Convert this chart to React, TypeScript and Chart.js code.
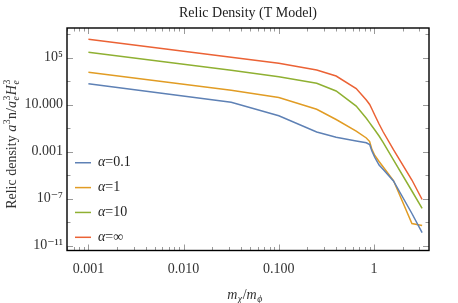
import React, { useEffect, useRef } from 'react';
import { Chart, registerables } from 'chart.js';
Chart.register(...registerables);

const FONT = '"Liberation Serif", "DejaVu Serif", serif';

// x = m_chi / m_phi
const X_VALUES = [0.001, 0.0316, 0.1, 0.25, 0.4, 0.65, 0.83, 0.9, 0.95, 1.02, 1.13, 1.25, 1.6, 2.5, 3.2];
const ALPHA_01 = [612, 16.0, 1.16, 0.0475, 0.0168, 8.3e-3, 5.71e-3, 4.1e-3, 1.15e-3, 3.21e-4, 7.38e-5, 3.05e-5, 3.21e-6, 5.5e-9, 1.28e-10];
const ALPHA_1 = [5.71e3, 168, 41.0, 4.06, 0.55, 0.0578, 0.0147, 7.38e-3, 1.57e-3, 4.75e-4, 1.47e-4, 4.99e-5, 3.54e-6, 7.74e-10, 5.24e-10];
const ALPHA_10 = [2.88e5, 8.47e3, 2.42e3, 662, 147, 7.74, 0.697, 0.282, 0.154, 0.0703, 0.0217, 5.94e-3, 2.05e-4, 4.52e-7, 1.52e-8];
const ALPHA_INF = [3.68e6, 1.08e5, 3.33e4, 8.97e3, 2.77e3, 239, 25.1, 10.4, 4.31, 1.28, 0.228, 0.0475, 1.48e-3, 3.9e-6, 8.55e-8];

const SERIES_LABELS = ['0.1', '1', '10', '∞'];
const SERIES_VALUES = [ALPHA_01, ALPHA_1, ALPHA_10, ALPHA_INF];
const SERIES_COLORS = ['#5E81B5', '#E19C24', '#8FB032', '#EB6235'];

const X_TICKS = [0.001, 0.01, 0.1, 1];
const X_TICK_LABELS = ['0.001', '0.010', '0.100', '1'];
const Y_TICKS = [1e5, 10, 1e-3, 1e-7, 1e-11];
const Y_TICK_LABELS = ['10⁵', '10.000', '0.001', '10⁻⁷', '10⁻¹¹'];
const Y_MINOR_EXP = [7, 3, -1, -5, -9];

const X_MIN = 5.96e-4;
const X_MAX = 3.78;
const Y_MIN = 3.9e-12;
const Y_MAX = 3.39e7;

const TITLE = 'Relic Density (T Model)';

type Part = { text: string; italic?: boolean; sub?: string; sup?: string };

const Y_TITLE: Part[] = [
  { text: 'Relic density ' },
  { text: 'a', italic: true, sup: '3' },
  { text: 'n/' },
  { text: 'a', italic: true, sub: 'e', sup: '3' },
  { text: 'H', italic: true, sub: 'e', sup: '3' },
];
const X_TITLE: Part[] = [
  { text: 'm', italic: true, sub: 'χ' },
  { text: '/' },
  { text: 'm', italic: true, sub: 'ϕ' },
];

function font(italic: boolean | undefined, size: number) {
  return `${italic ? 'italic ' : ''}${size}px ${FONT}`;
}

function drawRich(ctx: CanvasRenderingContext2D, parts: Part[], cx: number, cy: number, size: number, color: string) {
  const small = size * 0.7;
  const meas = parts.map((p) => {
    ctx.font = font(p.italic, size);
    const mw = ctx.measureText(p.text).width;
    ctx.font = font(true, small);
    const sw = p.sub ? ctx.measureText(p.sub).width : 0;
    ctx.font = font(false, small);
    const pw = p.sup ? ctx.measureText(p.sup).width : 0;
    return { mw, extra: Math.max(sw, pw) + (p.sub || p.sup ? 1 : 0) };
  });
  const total = meas.reduce((a, m) => a + m.mw + m.extra, 0);
  let x = cx - total / 2;
  const base = cy + size * 0.33;
  ctx.fillStyle = color;
  ctx.textBaseline = 'alphabetic';
  ctx.textAlign = 'left';
  parts.forEach((p, i) => {
    ctx.font = font(p.italic, size);
    ctx.fillText(p.text, x, base);
    x += meas[i].mw;
    if (p.sup) {
      ctx.font = font(false, small);
      ctx.fillText(p.sup, x + 0.5, base - size * 0.42);
    }
    if (p.sub) {
      ctx.font = font(true, small);
      ctx.fillText(p.sub, x + 0.5, base + size * 0.22);
    }
    x += meas[i].extra;
  });
}

const decorPlugin = {
  id: 'decor',
  afterDraw(chart: any) {
    const { ctx, chartArea } = chart;
    const { left, right, top, bottom } = chartArea;
    const xs = chart.scales.x;
    const ys = chart.scales.y;
    ctx.save();

    // inward tick marks
    ctx.strokeStyle = '#9a9a9a';
    ctx.lineWidth = 1;
    ctx.beginPath();
    for (let d = -4; d <= 1; d++) {
      for (let k = 1; k <= 9; k++) {
        const v = k * Math.pow(10, d);
        if (v < X_MIN || v > X_MAX) continue;
        const px = Math.round(xs.getPixelForValue(v)) + 0.5;
        const len = k === 1 ? 6 : 3.5;
        ctx.moveTo(px, bottom);
        ctx.lineTo(px, bottom - len);
        ctx.moveTo(px, top);
        ctx.lineTo(px, top + len);
      }
    }
    const yTickVals = [...Y_TICKS.map((v) => ({ v, len: 6 })), ...Y_MINOR_EXP.map((e) => ({ v: Math.pow(10, e), len: 3.5 }))];
    yTickVals.forEach(({ v, len }) => {
      if (v < Y_MIN || v > Y_MAX) return;
      const py = Math.round(ys.getPixelForValue(v)) + 0.5;
      ctx.moveTo(left, py);
      ctx.lineTo(left + len, py);
      ctx.moveTo(right, py);
      ctx.lineTo(right - len, py);
    });
    ctx.stroke();

    // frame
    ctx.strokeStyle = '#000';
    ctx.lineWidth = 1.4;
    ctx.strokeRect(left, top, right - left, bottom - top);

    // title
    ctx.fillStyle = '#222';
    ctx.font = font(false, 14);
    ctx.textAlign = 'center';
    ctx.textBaseline = 'middle';
    ctx.fillText(TITLE, (left + right) / 2, 13);

    // axis titles
    drawRich(ctx, X_TITLE, (left + right) / 2 - 3, 294, 14, '#333');
    ctx.save();
    ctx.translate(11.5, 144);
    ctx.rotate(-Math.PI / 2);
    drawRich(ctx, Y_TITLE, 0, 0, 14, '#333');
    ctx.restore();

    // legend inside chart area
    chart.data.datasets.forEach((ds: any, i: number) => {
      const y = bottom - 13.2 - (chart.data.datasets.length - 1 - i) * 24.85;
      ctx.strokeStyle = ds.borderColor;
      ctx.lineWidth = 1.5;
      ctx.beginPath();
      ctx.moveTo(left + 8, y);
      ctx.lineTo(left + 24, y);
      ctx.stroke();
      ctx.fillStyle = '#222';
      ctx.textAlign = 'left';
      ctx.textBaseline = 'middle';
      ctx.font = font(true, 14);
      const tx = left + 31;
      ctx.fillText('α', tx, y);
      const aw = ctx.measureText('α').width;
      ctx.font = font(false, 14);
      ctx.fillText('=' + SERIES_LABELS[i], tx + aw, y);
    });

    ctx.restore();
  },
};

export default function App() {
  const ref = useRef<HTMLCanvasElement>(null);
  useEffect(() => {
    const chart = new Chart(ref.current as HTMLCanvasElement, {
      type: 'line',
      data: {
        datasets: SERIES_VALUES.map((vals, i) => ({
          label: 'α=' + SERIES_LABELS[i],
          data: X_VALUES.map((x, j) => ({ x, y: vals[j] })),
          borderColor: SERIES_COLORS[i],
          backgroundColor: SERIES_COLORS[i],
          borderWidth: 1.5,
          pointRadius: 0,
          tension: 0,
          fill: false,
        })),
      },
      options: {
        animation: false,
        responsive: false,
        devicePixelRatio: 1,
        layout: { padding: { left: 0, right: 29, top: 28, bottom: 0 } },
        plugins: { legend: { display: false }, title: { display: false }, tooltip: { enabled: false } },
        scales: {
          x: {
            type: 'logarithmic',
            min: X_MIN,
            max: X_MAX,
            bounds: 'data',
            grid: { display: false, drawTicks: false },
            border: { display: false },
            afterBuildTicks: (s: any) => {
              s.ticks = X_TICKS.map((v) => ({ value: v }));
            },
            afterFit: (s: any) => {
              s.height = 52.5;
            },
            ticks: {
              autoSkip: false,
              maxRotation: 0,
              padding: 10,
              color: '#333',
              font: { family: FONT, size: 14 },
              callback: (v: any) => {
                const i = X_TICKS.findIndex((t) => Math.abs(Math.log10(t) - Math.log10(v)) < 1e-6);
                return i >= 0 ? X_TICK_LABELS[i] : '';
              },
            },
          },
          y: {
            type: 'logarithmic',
            min: Y_MIN,
            max: Y_MAX,
            bounds: 'data',
            grid: { display: false, drawTicks: false },
            border: { display: false },
            afterBuildTicks: (s: any) => {
              s.ticks = Y_TICKS.map((v) => ({ value: v }));
            },
            afterFit: (s: any) => {
              s.width = 67;
            },
            ticks: {
              autoSkip: false,
              padding: 4,
              color: '#333',
              font: { family: FONT, size: 14 },
              callback: (v: any) => {
                const i = Y_TICKS.findIndex((t) => Math.abs(Math.log10(t) - Math.log10(v)) < 1e-6);
                return i >= 0 ? Y_TICK_LABELS[i] : '';
              },
            },
          },
        },
      } as any,
      plugins: [decorPlugin],
    });
    return () => chart.destroy();
  }, []);
  return (
    <div style={{ position: 'fixed', left: 0, top: 0, width: 458, height: 303, background: '#fff' }}>
      <canvas ref={ref} width={458} height={303} style={{ display: 'block' }} />
    </div>
  );
}
